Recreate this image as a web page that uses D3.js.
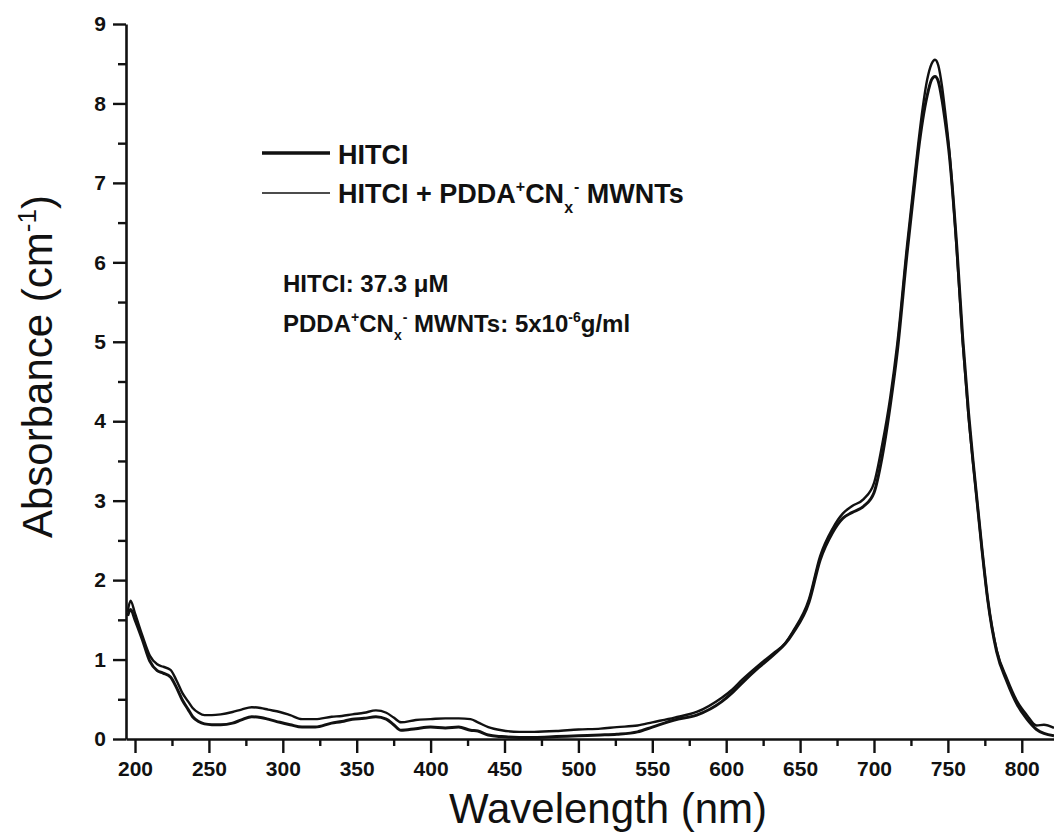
<!DOCTYPE html>
<html>
<head>
<meta charset="utf-8">
<script src="https://cdn.jsdelivr.net/npm/d3@7"></script>
<style>
  html, body { margin: 0; padding: 0; background: #fff; }
  svg { display: block; }
  text { font-family: "Liberation Sans", Arial, Helvetica, sans-serif; fill: #111; }
</style>
</head>
<body>
<svg id="chart" width="1054" height="833"></svg>
<script>
// ---- data ----
const wavelengths = [
  195, 197, 200, 205, 210, 215, 219, 224, 228, 232,
  236, 239, 243, 247, 252, 258, 266, 272, 279, 285,
  290, 298, 305, 313, 322, 333, 340, 347, 355, 363,
  370, 375, 380, 390, 400, 410, 419, 427, 432, 439,
  448, 460, 470, 485, 500, 515, 526, 540,
  550, 565, 580, 597, 604, 611, 622, 632, 640, 645,
  656, 663.5, 672, 679, 685, 693, 700, 705.5, 711, 715.6,
  722.3, 727, 730, 733, 736, 739, 741.3, 743.5, 746, 748,
  751, 756, 760, 764, 767, 773, 777, 783, 790, 797, 803.5,
  810, 815, 821.8
];
const hitci = [
  1.55, 1.63, 1.50, 1.25, 0.98, 0.86, 0.83, 0.78, 0.65, 0.49,
  0.37, 0.28, 0.22, 0.19, 0.18, 0.18, 0.20, 0.24, 0.28, 0.27,
  0.25, 0.21, 0.18, 0.15, 0.15, 0.20, 0.22, 0.25, 0.26, 0.28,
  0.25, 0.18, 0.11, 0.13, 0.15, 0.14, 0.15, 0.11, 0.10, 0.05,
  0.03, 0.02, 0.02, 0.03, 0.04, 0.05, 0.06, 0.09,
  0.15, 0.24, 0.30, 0.47, 0.58, 0.71, 0.90, 1.06, 1.20, 1.33,
  1.72, 2.25, 2.60, 2.78, 2.85, 2.93, 3.10, 3.55, 4.20, 4.85,
  6.10, 6.90, 7.40, 7.80, 8.10, 8.30, 8.34, 8.28, 8.05, 7.80,
  7.35, 6.20, 5.05, 4.10, 3.50, 2.40, 1.75, 1.10, 0.72, 0.43, 0.25,
  0.12, 0.07, 0.04
];
const hitciMwnt = [
  1.60, 1.74, 1.58, 1.30, 1.05, 0.94, 0.91, 0.87, 0.74, 0.58,
  0.47, 0.39, 0.33, 0.30, 0.30, 0.31, 0.34, 0.37, 0.40, 0.39,
  0.37, 0.34, 0.30, 0.25, 0.25, 0.28, 0.29, 0.31, 0.33, 0.36,
  0.33, 0.27, 0.21, 0.24, 0.25, 0.26, 0.26, 0.25, 0.21, 0.15,
  0.11, 0.09, 0.09, 0.10, 0.12, 0.13, 0.15, 0.17,
  0.21, 0.27, 0.34, 0.52, 0.62, 0.75, 0.93, 1.08, 1.21, 1.35,
  1.76, 2.30, 2.65, 2.84, 2.93, 3.02, 3.22, 3.70, 4.30, 4.95,
  6.20, 7.00, 7.50, 7.95, 8.30, 8.50, 8.55, 8.48, 8.22, 7.92,
  7.40, 6.15, 5.00, 4.05, 3.48, 2.40, 1.75, 1.12, 0.76, 0.47, 0.30,
  0.17, 0.18, 0.14
];
const xTickValues = [200, 250, 300, 350, 400, 450, 500, 550, 600, 650, 700, 750, 800];
const xMinorTicks = [225, 275, 325, 375, 425, 475, 525, 575, 625, 675, 725, 775];
const yTickValues = [0, 1, 2, 3, 4, 5, 6, 7, 8, 9];
const yMinorTicks = [0.5, 1.5, 2.5, 3.5, 4.5, 5.5, 6.5, 7.5, 8.5];
const seriesNames = ["HITCI", "HITCI + PDDA+CNx- MWNTs"];

// ---- layout ----
const svg = d3.select("#chart");
svg.append("rect").attr("width", 1054).attr("height", 833).attr("fill", "#fff");

const plotLeft = 126, plotRight = 1054, plotTop = 24, plotBottom = 739;
const x = d3.scaleLinear().domain([193.9, 821.8]).range([plotLeft, plotRight]);
const y = d3.scaleLinear().domain([0, 9]).range([plotBottom, plotTop]);

svg.append("defs").append("clipPath").attr("id", "plotClip")
  .append("rect").attr("x", plotLeft).attr("y", plotTop - 5)
  .attr("width", plotRight - plotLeft).attr("height", plotBottom - plotTop + 5);

// ---- curves ----
const line = d3.line()
  .x((d, i) => x(wavelengths[i]))
  .y(d => y(d))
  .curve(d3.curveMonotoneX);

const plot = svg.append("g").attr("clip-path", "url(#plotClip)");
plot.append("path").datum(hitciMwnt)
  .attr("d", line).attr("fill", "none").attr("stroke", "#111")
  .attr("stroke-width", 2.4).attr("stroke-linejoin", "round");
plot.append("path").datum(hitci)
  .attr("d", line).attr("fill", "none").attr("stroke", "#111")
  .attr("stroke-width", 3.0).attr("stroke-linejoin", "round");

// ---- axes ----
function styleAxis(g) {
  g.select(".domain").attr("stroke", "#111").attr("stroke-width", 2.6);
  g.selectAll(".tick line").attr("stroke", "#111").attr("stroke-width", 2.4);
  g.selectAll(".tick text")
    .style("font-family", '"Liberation Sans", Arial, sans-serif')
    .style("font-weight", "bold").style("font-size", "21px").attr("fill", "#111");
}

const xAxisG = svg.append("g").attr("transform", `translate(0,${plotBottom})`)
  .call(d3.axisBottom(x).tickValues(xTickValues).tickSize(14).tickSizeOuter(0).tickPadding(8).tickFormat(d3.format("d")));
styleAxis(xAxisG);
const xMinorG = svg.append("g").attr("transform", `translate(0,${plotBottom})`)
  .call(d3.axisBottom(x).tickValues(xMinorTicks).tickSize(7).tickSizeOuter(0).tickFormat(""));
styleAxis(xMinorG);
xMinorG.select(".domain").remove();

const yAxisG = svg.append("g").attr("transform", `translate(${plotLeft},0)`)
  .call(d3.axisLeft(y).tickValues(yTickValues).tickSize(13).tickSizeOuter(0).tickPadding(7).tickFormat(d3.format("d")));
styleAxis(yAxisG);
const yMinorG = svg.append("g").attr("transform", `translate(${plotLeft},0)`)
  .call(d3.axisLeft(y).tickValues(yMinorTicks).tickSize(8).tickSizeOuter(0).tickFormat(""));
styleAxis(yMinorG);
yMinorG.select(".domain").remove();

// ---- axis titles ----
svg.append("text")
  .attr("x", 608).attr("y", 823).attr("text-anchor", "middle")
  .style("font-size", "42px")
  .text("Wavelength (nm)");

const yt = svg.append("text")
  .attr("transform", "translate(52,538) rotate(-90)")
  .attr("text-anchor", "start")
  .style("font-size", "42px");
yt.append("tspan").text("Absorbance (cm");
yt.append("tspan").attr("dy", -16).style("font-size", "26px").text("-1");
yt.append("tspan").attr("dy", 16).text(")");

// ---- legend ----
const legend = svg.append("g");
legend.append("line").attr("x1", 262).attr("x2", 330).attr("y1", 153).attr("y2", 153)
  .attr("stroke", "#111").attr("stroke-width", 3.4);
legend.append("text").attr("x", 338).attr("y", 164)
  .style("font-weight", "bold").style("font-size", "27px").text(seriesNames[0]);

legend.append("line").attr("x1", 262).attr("x2", 330).attr("y1", 193).attr("y2", 193)
  .attr("stroke", "#111").attr("stroke-width", 1.4);
const l2 = legend.append("text").attr("x", 338).attr("y", 203)
  .style("font-weight", "bold").style("font-size", "27px");
l2.append("tspan").text("HITCI + PDDA");
l2.append("tspan").attr("dy", -11).style("font-size", "16px").text("+");
l2.append("tspan").attr("dy", 11).text("CN");
l2.append("tspan").attr("dy", 10).style("font-size", "16px").text("x");
l2.append("tspan").attr("dx", 1).attr("dy", -21).style("font-size", "16px").text("-");
l2.append("tspan").attr("dy", 11).text(" MWNTs");

// ---- annotation ----
const ann = svg.append("g");
const a1 = ann.append("text").attr("x", 283).attr("y", 292)
  .style("font-weight", "bold").style("font-size", "24px");
a1.append("tspan").text("HITCI: 37.3 \u03BCM");

const a2 = ann.append("text").attr("x", 283).attr("y", 332)
  .style("font-weight", "bold").style("font-size", "24px");
a2.append("tspan").text("PDDA");
a2.append("tspan").attr("dy", -10).style("font-size", "14px").text("+");
a2.append("tspan").attr("dy", 10).text("CN");
a2.append("tspan").attr("dy", 8).style("font-size", "14px").text("x");
a2.append("tspan").attr("dx", 1).attr("dy", -18).style("font-size", "14px").text("-");
a2.append("tspan").attr("dy", 10).text(" MWNTs: 5x10");
a2.append("tspan").attr("dy", -10).style("font-size", "14px").text("-6");
a2.append("tspan").attr("dy", 10).text("g/ml");
</script>
</body>
</html>
